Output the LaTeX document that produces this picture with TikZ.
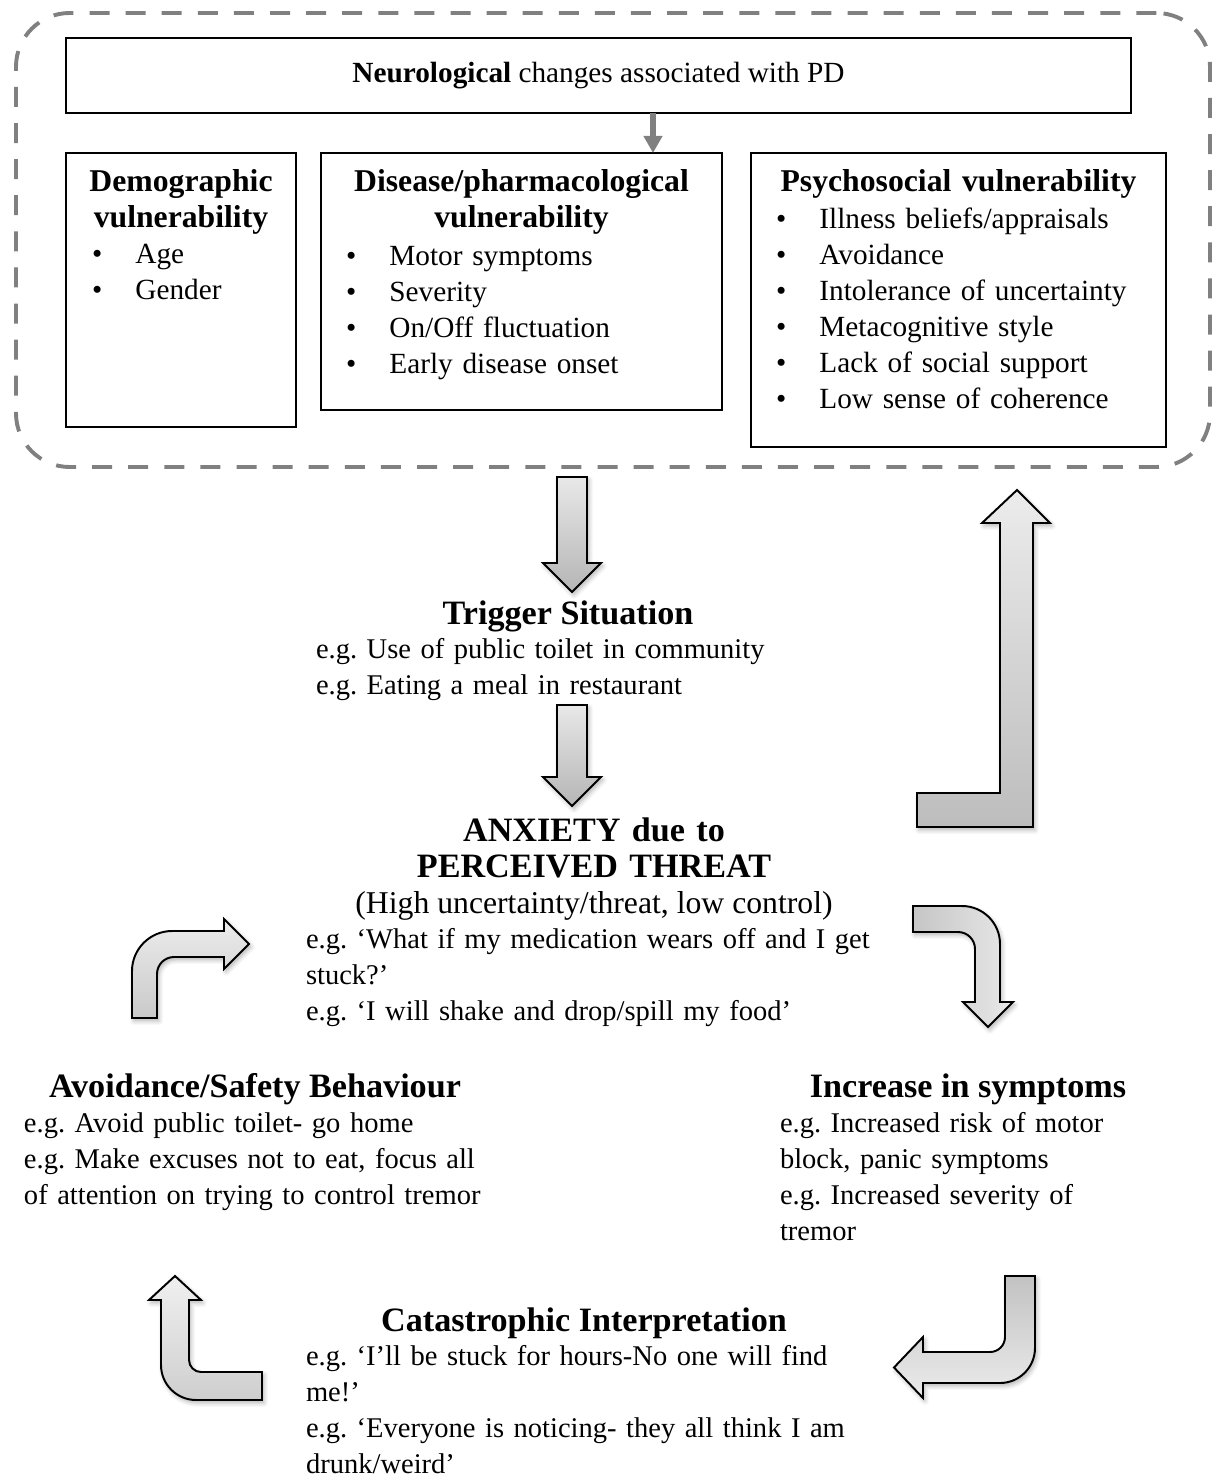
\documentclass[tikz,border=0pt]{standalone}
\usepackage{fontspec}
\setmainfont{Liberation Serif}
\usetikzlibrary{arrows.meta,fit,shadows.blur}

\newcommand{\bul}[1]{\makebox[17.8pt][l]{\textbullet}#1}

\begin{document}
\frenchspacing
\begin{tikzpicture}[x=0.41pt,y=-0.41pt]
    \tikzstyle{every node}+=[inner sep=0pt, outer sep=0pt]
    \tikzstyle{box}=[draw=black, line width=0.8pt]
    \tikzstyle{group}=[draw=gray, line width=1.6pt, dash pattern=on 8.2pt off 6.6pt, rounded corners=22pt]
    \tikzstyle{list}=[font=\fontsize{12}{14.76}\selectfont, align=left]
    \tikzstyle{txt}=[font=\fontsize{11.7}{14.76}\selectfont, align=left, text width=260pt]
    \tikzstyle{head}=[font=\fontsize{13}{14.76}\selectfont\bfseries, align=center]
    \tikzstyle{title}=[font=\fontsize{14}{14.76}\selectfont\bfseries]
    \tikzstyle{blockarrow}=[draw=black, line width=0.8pt, line join=miter,
        blur shadow={shadow xshift=0.8pt, shadow yshift=-1.2pt, shadow opacity=30, shadow blur steps=6}]
    \useasboundingbox (0,0) rectangle (1222,1479);

    % vulnerability group
    \node[group, fit={(16,13) (1210,467)}] (vuln) {};
    \node[box, minimum width=436.7pt, minimum height=30.75pt, font=\fontsize{12}{14.76}\selectfont] (neuro) at (598.5,75.5) {\textbf{Neurological} changes associated with PD};
    \node[box, fit={(66,153) (296,427)}] (demo) {};
    \node[box, fit={(321,153) (722,410)}] (disease) {};
    \node[box, fit={(751,153) (1166,447)}] (psych) {};
    \coordinate (tap) at (653,113);
    \draw[gray, line width=2.2pt, -{Triangle[length=7pt,width=7.4pt]}] (neuro.south -| tap) -- (disease.north -| tap);

    \node[head, anchor=base, text width=94pt] (demohead) at (181,191) {Demographic\\vulnerability};
    \node[list, anchor=base west, text width=82pt] (demolist) at (92,263) {\bul{Age}\\\bul{Gender}};
    \node[head, anchor=base, text width=164pt] (dishead) at (521.5,191) {Disease/pharmacological\\vulnerability};
    \node[list, anchor=base west, text width=150pt] (dislist) at (346,265) {\bul{Motor symptoms}\\\bul{Severity}\\\bul{On/Off fluctuation}\\\bul{Early disease onset}};
    \node[head, anchor=base, text width=170pt] (psyhead) at (958.5,191) {Psychosocial vulnerability};
    \node[list, anchor=base west, text width=160pt] (psylist) at (776,228) {\bul{Illness beliefs/appraisals}\\\bul{Avoidance}\\\bul{Intolerance of uncertainty}\\\bul{Metacognitive style}\\\bul{Lack of social support}\\\bul{Low sense of coherence}};

    % cycle texts
    \node[title, anchor=base] (trigger) at (568,624) {Trigger Situation};
    \node[txt, anchor=base west] (trigex) at (316,658) {e.g. Use of public toilet in community\\e.g. Eating a meal in restaurant};
    \node[title, anchor=base, align=center, text width=200pt] (anx) at (594,841) {ANXIETY due to\\PERCEIVED THREAT};
    \node[font=\fontsize{13}{14.76}\selectfont, anchor=base] (anxsub) at (594,913) {(High uncertainty/threat, low control)};
    \node[txt, anchor=base west] (anxex) at (306,948) {e.g. ‘What if my medication wears off and I get\\stuck?’\\e.g. ‘I will shake and drop/spill my food’};
    \node[title, anchor=base] (avoid) at (255,1097) {Avoidance/Safety Behaviour};
    \node[txt, anchor=base west] (avoidex) at (24,1132) {e.g. Avoid public toilet- go home\\e.g. Make excuses not to eat, focus all\\of attention on trying to control tremor};
    \node[title, anchor=base] (incr) at (968,1097) {Increase in symptoms};
    \node[txt, anchor=base west, text width=170pt] (increx) at (780,1132) {e.g. Increased risk of motor\\block, panic symptoms\\e.g. Increased severity of\\tremor};
    \node[title, anchor=base] (cat) at (584,1331) {Catastrophic Interpretation};
    \node[txt, anchor=base west] (catex) at (306,1365) {e.g. ‘I’ll be stuck for hours-No one will find\\me!’\\e.g. ‘Everyone is noticing- they all think I am\\drunk/weird’};

    % block arrows
    \draw[blockarrow, top color=gray!18, bottom color=gray!58] (557,477) -- (587,477) -- (587,563) -- (601,563) -- (572,592) -- (543,563) -- (557,563) -- cycle;
    \draw[blockarrow, top color=gray!18, bottom color=gray!58] (557,705) -- (587,705) -- (587,777) -- (601,777) -- (572,806) -- (543,777) -- (557,777) -- cycle;
    \draw[blockarrow, top color=gray!15, bottom color=gray!52] (1017,490) -- (1050,523) -- (1033,523) -- (1033,827) -- (917,827) -- (917,793) -- (1000,793) -- (1000,523) -- (982,523) -- cycle;
    \draw[blockarrow, left color=gray!45, right color=gray!18] (913,906) -- (962,906) .. controls (983,906) and (1000,923) .. (1000,944) -- (1000,1002) -- (1013,1002) -- (988,1027) -- (963,1002) -- (975,1002) -- (975,949) .. controls (975,939.6) and (967.4,932) .. (958,932) -- (913,932) -- cycle;
    \draw[blockarrow, top color=gray!15, bottom color=gray!42] (132,1018) -- (132,971) .. controls (132,949) and (150,931) .. (172,931) -- (224,931) -- (224,919) -- (249,944) -- (224,969) -- (224,957) -- (174,957) .. controls (164.6,957) and (157,964.6) .. (157,974) -- (157,1018) -- cycle;
    \draw[blockarrow, top color=gray!12, bottom color=gray!38] (175,1276) -- (201,1300) -- (189,1300) -- (189,1360) .. controls (189,1366.6) and (194.4,1372) .. (201,1372) -- (262,1372) -- (262,1400) -- (196,1400) .. controls (176.7,1400) and (161,1384.3) .. (161,1365) -- (161,1300) -- (149,1300) -- cycle;
    \draw[blockarrow, top color=gray!48, bottom color=gray!15] (1005,1276) -- (1035,1276) -- (1035,1348) .. controls (1035,1367.3) and (1019.3,1383) .. (1000,1383) -- (923,1383) -- (923,1398) -- (894,1367.5) -- (923,1337) -- (923,1352) -- (990,1352) .. controls (998.3,1352) and (1005,1345.3) .. (1005,1337) -- cycle;
\end{tikzpicture}
\end{document}
